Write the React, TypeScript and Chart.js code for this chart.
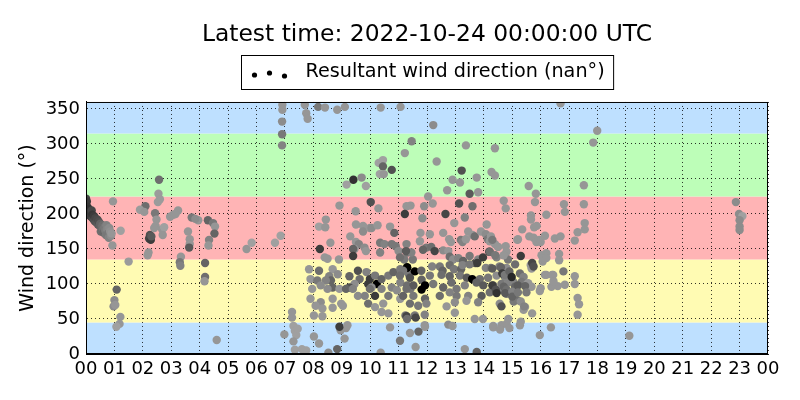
import { useEffect, useRef } from 'react';
import { Chart, registerables } from 'chart.js';

Chart.register(...registerables);

// [hour, wind direction (deg), grey level of the marker]
const nightPoints: [number, number, number][] = [
  [0.0, 222, 70], [0.03, 218, 60], [0.0, 215, 60], [0.02, 205, 50], [0.05, 210, 55], [0.08, 200, 60],
  [0.1, 207, 50], [0.12, 198, 70], [0.15, 203, 60], [0.18, 196, 65], [0.2, 205, 70], [0.22, 199, 55],
  [0.25, 193, 75], [0.28, 197, 60], [0.3, 190, 80], [0.33, 194, 70], [0.36, 188, 85], [0.4, 192, 75],
  [0.42, 185, 90], [0.45, 189, 80], [0.48, 183, 95], [0.5, 186, 100], [0.52, 175, 110], [0.55, 180, 105],
  [0.58, 184, 110], [0.6, 178, 115], [0.62, 173, 105], [0.65, 181, 120], [0.68, 176, 125], [0.7, 170, 120],
  [0.72, 184, 130], [0.75, 178, 135], [0.78, 172, 120], [0.8, 166, 130], [0.82, 180, 140], [0.85, 175, 145],
  [0.88, 169, 140], [0.9, 172, 150], [0.93, 155, 150], [0.95, 218, 150], [1.22, 176, 160], [1.5, 132, 155],
  [1.08, 92, 100], [1.0, 77, 140], [0.97, 68, 140], [1.03, 70, 150], [1.21, 53, 150], [1.18, 43, 150],
  [1.07, 39, 160], [4.6, 20, 150],
  [2.57, 249, 110], [2.55, 229, 155], [2.6, 221, 155], [2.53, 217, 155], [2.09, 211, 110], [1.9, 206, 155],
  [2.05, 203, 150], [2.43, 201, 120], [2.48, 192, 150], [2.45, 183, 150], [2.68, 178, 150], [2.75, 181, 160],
  [2.25, 170, 80], [2.22, 165, 70], [2.28, 163, 60], [2.3, 168, 90], [2.17, 141, 150], [2.2, 145, 150],
  [2.4, 180, 150], [2.7, 170, 150], [2.96, 196, 150], [3.07, 199, 150], [3.24, 205, 150], [3.15, 200, 150],
  [3.34, 139, 150], [3.3, 131, 120], [3.32, 126, 130],
  [3.72, 195, 120], [3.95, 191, 150], [3.85, 193, 140], [3.59, 175, 150], [3.65, 164, 150], [3.65, 157, 150],
  [3.63, 152, 90], [4.29, 191, 100], [4.47, 187, 120], [4.54, 182, 150], [4.52, 172, 100], [4.33, 163, 130],
  [4.31, 155, 150], [4.19, 130, 100], [4.19, 110, 110], [4.17, 104, 150],
  [5.65, 150, 150], [5.83, 159, 160], [6.65, 159, 160], [6.85, 169, 160],
];

const morningPoints: [number, number, number][] = [
  [6.91, 356, 150], [6.91, 349, 150], [6.9, 332, 140], [6.9, 314, 120], [6.9, 298, 130], [7.7, 356, 150],
  [7.75, 344, 150], [7.8, 336, 150], [8.17, 353, 120], [8.41, 352, 150], [8.84, 349, 150], [9.11, 353, 150],
  [10.37, 352, 150],
  [9.17, 242, 160], [9.41, 249, 50], [9.7, 252, 140], [9.85, 240, 160], [10.3, 273, 160], [10.45, 277, 160],
  [10.45, 268, 100], [10.34, 257, 160], [10.48, 257, 150], [10.76, 263, 80],
  [8.92, 212, 150], [10.02, 217, 80], [10.29, 208, 150], [9.49, 204, 150], [8.44, 192, 150], [8.2, 182, 160],
  [8.42, 181, 150], [9.5, 185, 150], [9.75, 183, 150], [9.75, 175, 140], [9.99, 180, 150], [10.05, 180, 140],
  [10.26, 184, 150], [10.7, 182, 150], [10.85, 173, 100], [9.3, 168, 150], [9.5, 160, 150], [9.6, 157, 130],
  [9.45, 150, 150], [9.8, 152, 140], [8.6, 159, 150], [10.35, 159, 120], [10.5, 157, 130], [10.76, 157, 120],
  [10.9, 154, 120], [8.23, 150, 60], [9.4, 150, 100], [9.4, 140, 60], [9.85, 147, 150], [8.4, 138, 150],
  [8.5, 136, 150], [8.9, 135, 150], [10.35, 145, 130], [11.0, 147, 140], [11.3, 145, 110], [11.2, 135, 120],
  [7.85, 121, 150], [8.2, 119, 110], [8.68, 121, 150], [8.56, 111, 130], [8.86, 114, 140], [8.62, 105, 100],
  [8.44, 105, 130], [7.9, 107, 150], [8.14, 105, 120], [8.26, 98, 140], [8.68, 95, 100], [7.96, 93, 150],
  [8.5, 93, 140], [8.92, 93, 150], [9.27, 111, 100], [9.57, 119, 80], [9.87, 117, 130], [9.63, 107, 110],
  [9.45, 100, 140], [9.27, 95, 80], [9.99, 107, 60], [10.17, 112, 120], [9.93, 100, 60], [10.23, 100, 0],
  [10.05, 95, 140], [10.4, 107, 100], [10.64, 112, 120], [10.4, 93, 130], [10.82, 117, 100], [11.06, 121, 120],
  [11.3, 124, 0], [11.36, 114, 120], [11.06, 102, 130], [11.3, 98, 110], [10.76, 95, 130], [10.94, 91, 140],
  [9.15, 93, 100], [9.39, 93, 130], [9.57, 83, 140], [9.81, 83, 130], [9.99, 93, 110], [10.17, 83, 60],
  [10.64, 83, 120], [7.9, 79, 150], [8.26, 74, 140], [8.68, 79, 150], [8.98, 72, 150], [8.08, 69, 150],
  [8.32, 65, 150], [8.68, 66, 150], [9.04, 69, 150], [8.02, 55, 150], [8.32, 54, 150], [9.93, 72, 110],
  [10.17, 67, 150], [10.46, 72, 150], [10.64, 58, 150], [11.06, 79, 150], [11.42, 93, 120], [11.24, 55, 120],
  [10.4, 60, 150],
  [7.25, 60, 150], [7.25, 52, 150], [6.98, 28, 150], [7.3, 40, 160], [7.35, 33, 160], [7.4, 27, 160],
  [7.45, 36, 160], [7.3, 18, 150], [7.35, 6, 160], [7.6, 7, 160], [7.75, 5, 160], [8.02, 25, 150],
  [8.2, 15, 150], [8.53, 2, 140], [8.84, 7, 100], [8.96, 34, 150], [9.1, 22, 150], [9.15, 37, 150],
  [10.37, 2, 150], [10.7, 38, 150], [8.92, 39, 60], [9.2, 41, 150],
];

const middayPoints: [number, number, number][] = [
  [11.07, 353, 150], [12.22, 327, 140], [11.46, 304, 130], [11.22, 287, 150], [12.34, 275, 150], [13.37, 298, 150],
  [14.39, 294, 150], [13.22, 262, 80], [13.75, 252, 150], [12.9, 249, 150], [13.16, 245, 150], [14.27, 260, 150],
  [14.39, 255, 150], [12.71, 234, 150], [13.5, 229, 90], [13.8, 231, 150], [12.04, 225, 150],
  [11.28, 211, 150], [11.42, 212, 150], [11.9, 211, 140], [12.2, 215, 150], [13.13, 215, 80], [13.6, 211, 110],
  [14.7, 219, 150], [14.77, 208, 150], [11.22, 200, 60], [12.65, 200, 70], [11.84, 194, 140], [13.33, 195, 130],
  [12.96, 187, 150], [14.1, 185, 150], [11.77, 173, 150], [12.1, 171, 150], [12.57, 173, 150], [12.78, 164, 150],
  [12.84, 160, 150], [13.19, 163, 120], [13.45, 175, 150], [13.6, 170, 150], [13.68, 168, 110], [13.9, 175, 150],
  [14.07, 171, 140], [14.14, 164, 120], [11.75, 161, 150], [11.28, 157, 130], [11.98, 152, 120], [12.15, 153, 110],
  [11.86, 149, 100], [12.27, 147, 70], [12.57, 148, 140], [12.75, 147, 150], [13.25, 160, 130], [13.37, 164, 150],
  [14.21, 161, 150], [14.39, 157, 150], [14.19, 146, 60], [14.5, 153, 150], [14.77, 154, 150], [14.8, 146, 150],
  [11.05, 138, 110], [11.5, 135, 120], [11.45, 145, 130], [11.26, 147, 90], [12.8, 139, 110], [12.92, 135, 140],
  [13.1, 137, 130], [13.27, 133, 100], [13.5, 140, 120], [13.7, 130, 80], [13.8, 135, 130], [13.97, 138, 60],
  [14.45, 138, 130], [14.85, 135, 120],
  [11.3, 123, 0], [11.57, 118, 0], [11.16, 119, 120], [11.05, 112, 110], [11.8, 119, 100], [12.18, 125, 130],
  [12.45, 125, 120], [12.55, 119, 100], [12.8, 127, 110], [12.95, 121, 120], [13.2, 121, 100], [13.25, 127, 130],
  [13.5, 128, 120], [13.77, 130, 60], [14.07, 123, 130], [14.25, 123, 120], [14.55, 125, 130], [14.8, 123, 140],
  [11.4, 109, 80], [11.81, 106, 100], [12.1, 112, 120], [12.51, 113, 110], [12.8, 111, 100], [13.16, 112, 120],
  [13.4, 109, 90], [13.59, 107, 0], [13.86, 107, 110], [14.15, 109, 120], [14.45, 112, 140], [14.74, 110, 130],
  [11.93, 98, 0], [11.81, 92, 0], [11.52, 98, 90], [11.28, 93, 110], [12.22, 100, 120], [12.57, 95, 100],
  [12.86, 102, 110], [13.04, 93, 120], [13.33, 98, 130], [13.74, 102, 100], [13.98, 98, 90], [14.33, 98, 110],
  [14.62, 100, 120], [14.86, 102, 130],
  [11.16, 83, 100], [11.52, 83, 120], [11.93, 79, 100], [12.45, 83, 110], [12.8, 88, 130], [13.04, 83, 120],
  [13.45, 83, 130], [13.92, 83, 90], [14.21, 88, 110], [14.5, 91, 140], [14.8, 86, 120],
  [11.4, 72, 110], [11.69, 69, 120], [11.98, 72, 130], [12.69, 68, 150], [12.98, 74, 140], [13.39, 76, 150],
  [13.8, 74, 130], [14.56, 72, 140], [11.28, 54, 70], [11.57, 55, 120], [11.92, 56, 130], [12.98, 59, 150],
  [11.3, 50, 110], [11.6, 52, 70],
  [11.92, 41, 150], [12.75, 42, 140], [13.68, 50, 150], [13.97, 50, 150], [14.33, 40, 150], [14.62, 41, 150],
  [11.93, 39, 150], [11.4, 30, 150], [11.7, 32, 100], [11.05, 19, 120], [11.6, 10, 150], [12.9, 40, 150],
  [13.33, 7, 150], [13.75, 3, 100], [14.8, 43, 150],
];

const afternoonPoints: [number, number, number][] = [
  [15.35, 178, 150], [15.77, 181, 150], [14.25, 168, 150], [14.3, 163, 120], [15.18, 163, 150], [15.6, 168, 150],
  [15.75, 166, 150], [15.95, 163, 150], [15.85, 160, 150], [14.5, 153, 150], [14.7, 141, 150], [14.21, 146, 110],
  [14.4, 141, 120], [16.03, 141, 150], [16.07, 132, 150], [15.65, 127, 150], [15.68, 122, 150], [14.3, 122, 90],
  [14.6, 124, 100], [14.65, 115, 60], [14.74, 113, 120], [14.9, 118, 100], [15.27, 115, 110], [15.4, 110, 130],
  [15.33, 103, 120], [15.04, 103, 130], [15.1, 96, 100], [14.3, 98, 60], [14.42, 92, 80], [14.45, 87, 50],
  [14.7, 96, 100], [14.8, 92, 110], [14.75, 87, 90], [15.0, 89, 130], [15.18, 77, 110], [15.05, 75, 120],
  [15.5, 99, 150], [15.56, 101, 150], [15.68, 96, 150], [15.3, 75, 140], [15.45, 67, 150], [15.4, 63, 150],
  [15.7, 58, 150], [16.15, 113, 150], [16.44, 113, 150], [16.38, 96, 150], [15.97, 90, 150], [14.62, 68, 80],
  [14.86, 50, 150], [14.33, 38, 150], [14.57, 35, 150], [14.9, 37, 150], [15.27, 41, 150], [15.97, 27, 150],
  [16.36, 38, 150],
  [14.98, 110, 40], [15.2, 98, 90], [15.1, 128, 110], [15.0, 82, 100], [15.2, 88, 120], [15.45, 97, 100],
  [15.5, 88, 120], [15.3, 46, 150], [15.42, 68, 130],
  [16.7, 358, 150], [17.99, 319, 150], [17.85, 302, 150], [15.58, 240, 150], [15.83, 229, 150], [17.52, 241, 150],
  [15.8, 217, 150], [16.82, 214, 150], [17.52, 214, 150], [15.66, 198, 150], [15.66, 192, 150], [16.2, 199, 150],
  [16.85, 203, 150], [17.55, 187, 150], [17.55, 178, 150], [15.86, 183, 150], [15.2, 164, 150], [16.0, 160, 150],
  [16.15, 169, 150], [16.5, 165, 150], [16.7, 168, 150], [17.2, 162, 150], [17.3, 174, 150], [16.2, 144, 150],
  [16.2, 137, 150], [16.65, 143, 150], [16.65, 134, 150], [15.3, 140, 60], [15.7, 130, 70], [15.75, 125, 80],
  [16.2, 113, 150], [16.4, 113, 150], [16.8, 118, 120], [17.2, 111, 150], [16.6, 97, 150], [16.45, 104, 150],
  [16.85, 99, 150], [17.2, 100, 150], [16.0, 94, 150], [17.3, 80, 150], [17.35, 71, 150], [17.3, 56, 150],
  [19.12, 26, 150],
];

const eveningPoints: [number, number, number][] = [
  [22.87, 217, 140], [22.98, 200, 140], [23.1, 197, 160], [23.0, 191, 140], [23.0, 182, 140], [23.0, 177, 140],
];

const hourTicks = [0, 1, 2, 3, 4, 5, 6, 7, 8, 9, 10, 11, 12, 13, 14, 15, 16, 17, 18, 19, 20, 21, 22, 23, 24];
const hourLabels = ['00', '01', '02', '03', '04', '05', '06', '07', '08', '09', '10', '11',
  '12', '13', '14', '15', '16', '17', '18', '19', '20', '21', '22', '23', '00'];
const directionTicks = [0, 50, 100, 150, 200, 250, 300, 350];

// direction sectors shaded behind the points
const sectorEdges = [0, 45, 135, 225, 315, 360];
const sectorColors = ['#bee0ff', '#fffbb3', '#ffb4b5', '#bdfeb8', '#bee0ff'];

const titleText = 'Latest time: 2022-10-24 00:00:00 UTC';
const legendText = 'Resultant wind direction (nan°)';

const allPoints = [...nightPoints, ...morningPoints, ...middayPoints, ...afternoonPoints, ...eveningPoints];

const sectorPlugin = {
  id: 'sectors',
  beforeDraw(chart: any) {
    const { ctx, chartArea, scales } = chart;
    ctx.save();
    for (let i = 0; i < sectorColors.length; i++) {
      const y1 = scales.y.getPixelForValue(sectorEdges[i]);
      const y2 = scales.y.getPixelForValue(sectorEdges[i + 1]);
      ctx.fillStyle = sectorColors[i];
      ctx.fillRect(chartArea.left, y2, chartArea.right - chartArea.left, y1 - y2);
    }
    ctx.restore();
  },
};

const frameAndLegend = {
  id: 'frameAndLegend',
  afterDraw(chart: any) {
    const { ctx, chartArea } = chart;
    ctx.save();
    ctx.strokeStyle = '#000';
    ctx.lineWidth = 1;
    ctx.strokeRect(chartArea.left + 0.5, chartArea.top + 0.5,
      chartArea.right - chartArea.left - 1, chartArea.bottom - chartArea.top - 1);

    // legend box, matplotlib style
    const cx = (chartArea.left + chartArea.right) / 2;
    ctx.font = '19.2px "DejaVu Sans"';
    const tw = ctx.measureText(legendText).width;
    const boxW = tw + 73;
    const left = Math.round(cx - boxW / 2) + 0.5;
    ctx.fillStyle = '#fff';
    ctx.fillRect(left, 55.5, boxW, 34);
    ctx.strokeRect(left, 55.5, boxW, 34);
    ctx.fillStyle = '#000';
    const dots = [[13, 75], [28, 73], [43, 76]];
    dots.forEach(([dx, dy]) => {
      ctx.beginPath();
      ctx.arc(left + dx, dy, 2.6, 0, Math.PI * 2);
      ctx.fill();
    });
    ctx.textBaseline = 'middle';
    ctx.fillText(legendText, left + 64, 72.5);
    ctx.restore();
  },
};

export default function App() {
  const canvasRef = useRef<HTMLCanvasElement>(null);
  const chartRef = useRef<Chart | null>(null);

  useEffect(() => {
    if (!canvasRef.current) return;
    if (chartRef.current) chartRef.current.destroy();

    Chart.defaults.font.family = '"DejaVu Sans", sans-serif';
    Chart.defaults.color = '#000';

    chartRef.current = new Chart(canvasRef.current, {
      type: 'scatter',
      data: {
        datasets: [
          {
            label: legendText,
            data: allPoints.map(([h, d]) => ({ x: h, y: d })),
            pointBackgroundColor: allPoints.map(([, , g]) => `rgb(${g},${g},${g})`),
            pointBorderWidth: 0,
            pointRadius: 4.2,
            clip: 0,
          } as any,
        ],
      },
      options: {
        animation: false,
        responsive: true,
        maintainAspectRatio: false,
        events: [],
        layout: { padding: { left: 0, right: 32, top: 0, bottom: 0 } },
        plugins: {
          legend: { display: false },
          tooltip: { enabled: false },
          title: {
            display: true,
            text: titleText,
            fullSize: false,
            color: '#000',
            font: { size: 23.4, weight: 'normal', lineHeight: 1.2 },
            padding: { top: 21, bottom: 52.9 },
          },
        },
        scales: {
          x: {
            type: 'linear',
            min: 0,
            max: 24,
            afterBuildTicks: (axis: any) => {
              axis.ticks = hourTicks.map((v) => ({ value: v }));
            },
            afterFit: (axis: any) => {
              axis.height = 46;
            },
            grid: { color: '#000', lineWidth: 0.8, drawTicks: false },
            border: { display: true, color: '#000', width: 1, dash: [1, 3] },
            ticks: {
              autoSkip: false,
              maxRotation: 0,
              padding: 5,
              color: '#000',
              font: { size: 18 },
              callback: (_v: any, i: number) => hourLabels[i],
            },
          },
          y: {
            type: 'linear',
            min: 0,
            max: 360,
            afterBuildTicks: (axis: any) => {
              axis.ticks = directionTicks.map((v) => ({ value: v }));
            },
            afterFit: (axis: any) => {
              axis.width = 86;
            },
            grid: { color: '#000', lineWidth: 0.8, drawTicks: false },
            border: { display: true, color: '#000', width: 1, dash: [1, 3] },
            ticks: { padding: 6, color: '#000', font: { size: 18 } },
            title: {
              display: true,
              text: 'Wind direction (°)',
              color: '#000',
              font: { size: 19 },
              padding: { top: 17, bottom: 0 },
            },
          },
        },
      },
      plugins: [sectorPlugin, frameAndLegend],
    });

    return () => {
      if (chartRef.current) {
        chartRef.current.destroy();
        chartRef.current = null;
      }
    };
  }, []);

  return (
    <div style={{ position: 'fixed', left: 0, top: 0, width: 800, height: 400, background: '#fff' }}>
      <canvas ref={canvasRef}></canvas>
    </div>
  );
}
